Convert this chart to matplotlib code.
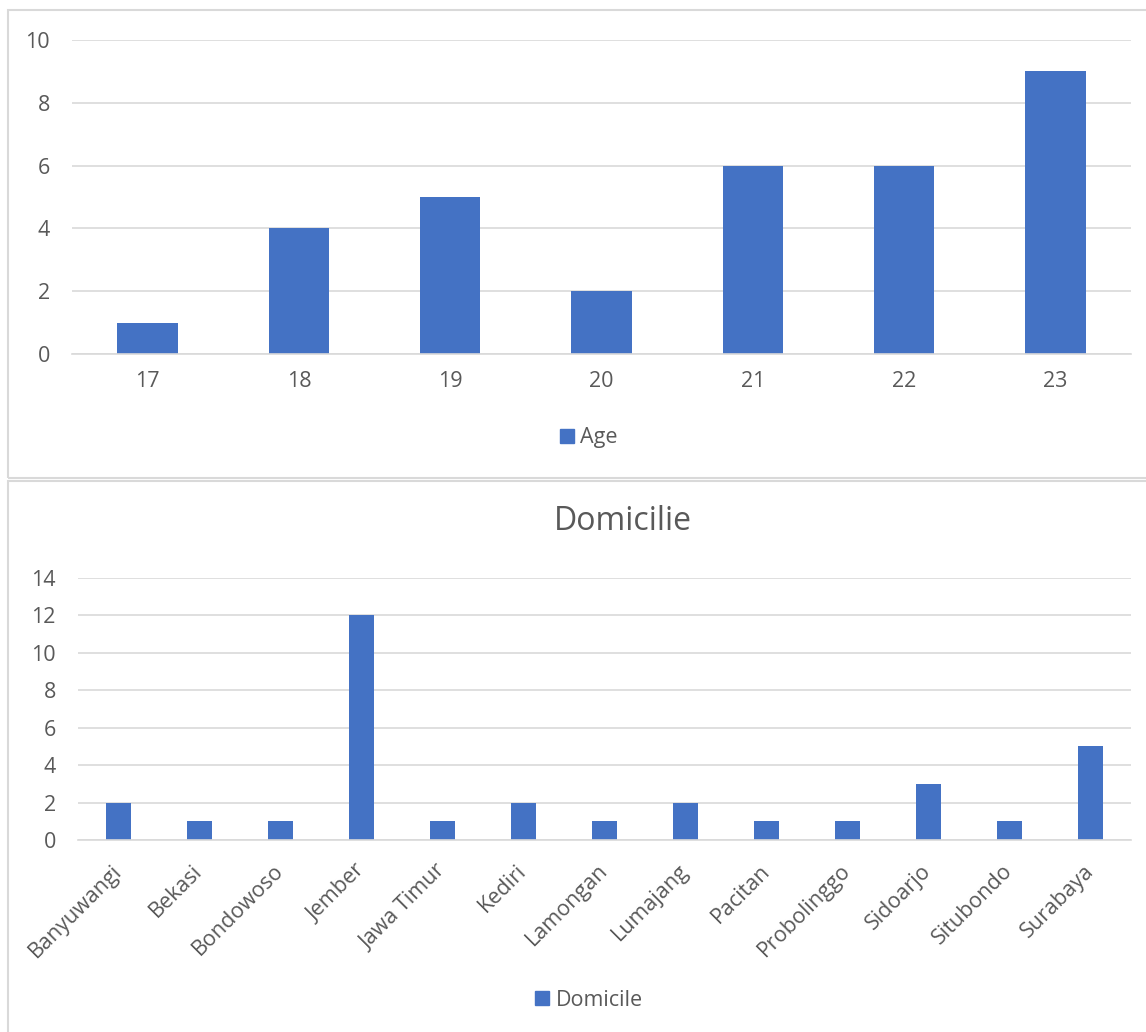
import matplotlib
matplotlib.use("Agg")
import matplotlib.pyplot as plt
from matplotlib.patches import Rectangle, Patch

age_labels = ["17", "18", "19", "20", "21", "22", "23"]
age_counts = [1, 4, 5, 2, 6, 6, 9]

dom_labels = ["Banyuwangi", "Bekasi", "Bondowoso", "Jember", "Jawa Timur", "Kediri",
              "Lamongan", "Lumajang", "Pacitan", "Probolinggo", "Sidoarjo", "Situbondo", "Surabaya"]
dom_counts = [2, 1, 1, 12, 1, 2, 1, 2, 1, 1, 3, 1, 5]

W, H = 1146, 1032
BAR = "#4472C4"
GRID = "#D9D9D9"
TXT = "#595959"
FS = 15.5
plt.rcParams['font.family'] = ['Open Sans', 'DejaVu Sans']

fig = plt.figure(figsize=(W/100, H/100), dpi=100)

def fx(px): return px / W
def fy(py): return 1 - py / H

# panel borders
fig.patches.append(Rectangle((fx(8), fy(478)), fx(1160) - fx(8), fy(10) - fy(478),
                             transform=fig.transFigure, fill=False, edgecolor=GRID, lw=1.5))
fig.patches.append(Rectangle((fx(8), fy(1040)), fx(1160) - fx(8), fy(481) - fy(1040),
                             transform=fig.transFigure, fill=False, edgecolor=GRID, lw=1.5))

def style(ax):
    for s in ax.spines.values():
        s.set_visible(False)
    ax.spines['bottom'].set_visible(True)
    ax.spines['bottom'].set_color(GRID)
    ax.spines['bottom'].set_linewidth(1.2)
    ax.yaxis.grid(True, color=GRID, lw=1.2)
    ax.set_axisbelow(True)
    ax.tick_params(length=0, colors=TXT, labelsize=FS)

# top chart
ax1 = fig.add_axes([fx(72), fy(354), fx(1131) - fx(72), fy(40) - fy(354)])
x1 = range(len(age_labels))
ax1.bar(x1, age_counts, width=0.4, color=BAR)
ax1.set_xlim(-0.5, len(age_labels) - 0.5)
ax1.set_ylim(0, 10)
ax1.set_yticks(range(0, 11, 2))
ax1.set_xticks(list(x1))
ax1.set_xticklabels(age_labels)
style(ax1)
ax1.tick_params(axis='y', pad=16)
ax1.tick_params(axis='x', pad=12)
fig.legend(handles=[Patch(color=BAR, label="Age")], loc='center',
           bbox_to_anchor=(fx(589), fy(438)), frameon=False, fontsize=FS,
           handlelength=0.65, handleheight=0.65, handletextpad=0.3, labelcolor=TXT)

# bottom chart
ax2 = fig.add_axes([fx(78), fy(840), fx(1131) - fx(78), fy(578) - fy(840)])
x2 = range(len(dom_labels))
ax2.bar(x2, dom_counts, width=0.31, color=BAR)
ax2.set_xlim(-0.5, len(dom_labels) - 0.5)
ax2.set_ylim(0, 14)
ax2.set_yticks(range(0, 15, 2))
ax2.set_xticks(list(x2))
ax2.set_xticklabels(dom_labels, rotation=45, ha='right', va='center', rotation_mode='anchor')
style(ax2)
ax2.tick_params(axis='y', pad=16)
ax2.tick_params(axis='x', pad=20)
fig.text(fx(623), fy(521), "Domicilie", ha='center', va='center', fontsize=23, color=TXT)
fig.legend(handles=[Patch(color=BAR, label="Domicile")], loc='center',
           bbox_to_anchor=(fx(589), fy(1000)), frameon=False, fontsize=FS,
           handlelength=0.65, handleheight=0.65, handletextpad=0.3, labelcolor=TXT)

fig.savefig("out.png", dpi=100)
